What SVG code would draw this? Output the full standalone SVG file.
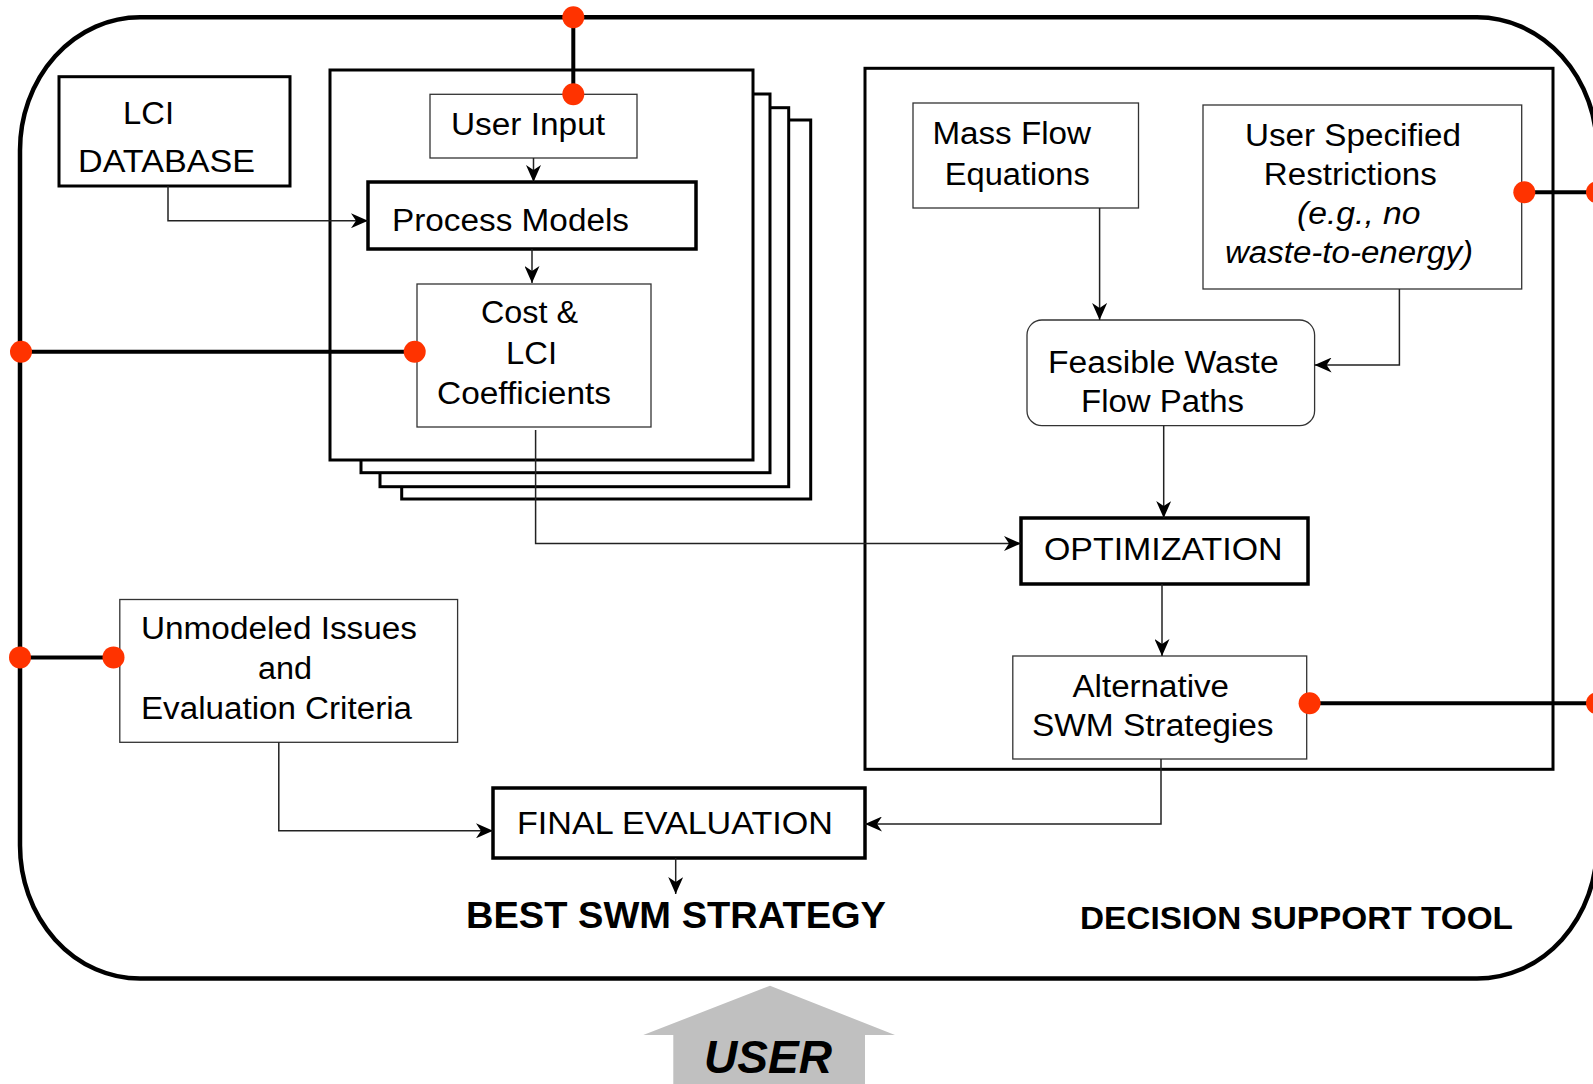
<svg xmlns="http://www.w3.org/2000/svg" width="1593" height="1084" viewBox="0 0 1593 1084">
  <style>
    .t { font-family: "Liberation Sans", Arial, sans-serif; font-size: 31px; fill: #000; }
    .ti { font-family: "Liberation Sans", Arial, sans-serif; font-size: 31px; font-style: italic; fill: #000; }
    .tb { font-family: "Liberation Sans", Arial, sans-serif; font-weight: bold; fill: #000; }
    .thin { fill: #fff; stroke: #333; stroke-width: 1.3; }
    .thick { fill: #fff; stroke: #000; stroke-width: 3.5; }
    .frame { fill: #fff; stroke: #000; stroke-width: 3; }
    .flow { fill: none; stroke: #222; stroke-width: 1.5; marker-end: url(#arrow); }
    .link { fill: none; stroke: #000; stroke-width: 4; }
    .dot { fill: #ff3300; }
  </style>
  <defs>
    <marker id="arrow" markerUnits="userSpaceOnUse" markerWidth="18" markerHeight="15" refX="17" refY="7.5" orient="auto">
      <path d="M0,0 L17,7.5 L0,15 L5,7.5 z" fill="#000"/>
    </marker>
  </defs>

  <rect width="1593" height="1084" fill="#fff"/>

  <!-- decision support tool boundary -->
  <path id="boundary" d="M140,17.3 H1477 A120,133 0 0 1 1597,150.3 V845.6 A120,133 0 0 1 1477,978.6 H140 A120,133 0 0 1 20,845.6 V150.3 A120,133 0 0 1 140,17.3 Z" fill="none" stroke="#000" stroke-width="4.5"/>

  <!-- user arrow -->
  <g id="user">
    <polygon points="770,985.7 895,1035 865,1035 865,1084 673.3,1084 673.3,1035 643.3,1035" fill="#c0c0c0"/>
    <text class="tb" x="704" y="1072.5" font-size="46" font-style="italic" textLength="128" lengthAdjust="spacingAndGlyphs">USER</text>
  </g>

  <!-- optimisation model frame -->
  <rect id="model-frame" class="frame" x="865" y="68.3" width="688" height="701"/>

  <!-- stack of process pages -->
  <g id="process-stack">
    <rect class="frame" x="401.7" y="120" width="409" height="379"/>
    <rect class="frame" x="380" y="107.7" width="408.7" height="379"/>
    <rect class="frame" x="361" y="94" width="409" height="378.7"/>
    <rect class="frame" x="330" y="70" width="423" height="390"/>
  </g>

  <g id="lci-database">
    <rect class="frame" x="59" y="76.7" width="231" height="109.3"/>
    <text class="t" x="123" y="124" textLength="51" lengthAdjust="spacingAndGlyphs">LCI</text>
    <text class="t" x="78" y="171.7" textLength="177" lengthAdjust="spacingAndGlyphs">DATABASE</text>
  </g>

  <g id="user-input">
    <rect class="thin" x="430" y="94.3" width="207" height="63.7"/>
    <text class="t" x="451" y="135" textLength="154" lengthAdjust="spacingAndGlyphs">User Input</text>
  </g>

  <g id="process-models">
    <rect class="thick" x="368" y="182" width="328" height="67"/>
    <text class="t" x="392" y="231" textLength="237" lengthAdjust="spacingAndGlyphs">Process Models</text>
  </g>

  <g id="cost-lci">
    <rect class="thin" x="417" y="284" width="234" height="143"/>
    <text class="t" x="481" y="323" textLength="97" lengthAdjust="spacingAndGlyphs">Cost &amp;</text>
    <text class="t" x="506" y="364" textLength="51" lengthAdjust="spacingAndGlyphs">LCI</text>
    <text class="t" x="437" y="404" textLength="174" lengthAdjust="spacingAndGlyphs">Coefficients</text>
  </g>

  <g id="mass-flow">
    <rect class="thin" x="913" y="103" width="225.5" height="105"/>
    <text class="t" x="932.4" y="144" textLength="158.6" lengthAdjust="spacingAndGlyphs">Mass Flow</text>
    <text class="t" x="944.8" y="185" textLength="145" lengthAdjust="spacingAndGlyphs">Equations</text>
  </g>

  <g id="user-restrictions">
    <rect class="thin" x="1203" y="105" width="318.7" height="184"/>
    <text class="t" x="1245" y="145.7" textLength="216" lengthAdjust="spacingAndGlyphs">User Specified</text>
    <text class="t" x="1263.8" y="185" textLength="173" lengthAdjust="spacingAndGlyphs">Restrictions</text>
    <text class="ti" x="1297" y="224" textLength="123.6" lengthAdjust="spacingAndGlyphs">(e.g., no</text>
    <text class="ti" x="1225" y="263" textLength="248" lengthAdjust="spacingAndGlyphs">waste-to-energy)</text>
  </g>

  <g id="feasible-paths">
    <rect class="thin" x="1027" y="320" width="287.6" height="105.7" rx="15" ry="15"/>
    <text class="t" x="1048" y="373" textLength="230.6" lengthAdjust="spacingAndGlyphs">Feasible Waste</text>
    <text class="t" x="1081" y="412" textLength="163" lengthAdjust="spacingAndGlyphs">Flow Paths</text>
  </g>

  <g id="optimization">
    <rect class="thick" x="1021" y="518" width="287" height="66"/>
    <text class="t" x="1044" y="559.6" textLength="238.5" lengthAdjust="spacingAndGlyphs">OPTIMIZATION</text>
  </g>

  <g id="alternatives">
    <rect class="thin" x="1012.8" y="656" width="293.9" height="103"/>
    <text class="t" x="1072.5" y="697" textLength="156.5" lengthAdjust="spacingAndGlyphs">Alternative</text>
    <text class="t" x="1032" y="736" textLength="241.6" lengthAdjust="spacingAndGlyphs">SWM Strategies</text>
  </g>

  <g id="unmodeled-issues">
    <rect class="thin" x="119.8" y="599.5" width="337.8" height="142.8"/>
    <text class="t" x="141" y="638.7" textLength="276" lengthAdjust="spacingAndGlyphs">Unmodeled Issues</text>
    <text class="t" x="258" y="679.4" textLength="54" lengthAdjust="spacingAndGlyphs">and</text>
    <text class="t" x="141" y="719" textLength="271" lengthAdjust="spacingAndGlyphs">Evaluation Criteria</text>
  </g>

  <g id="final-evaluation">
    <rect class="thick" x="493" y="788" width="372" height="70"/>
    <text class="t" x="517" y="833.7" textLength="316" lengthAdjust="spacingAndGlyphs">FINAL EVALUATION</text>
  </g>

  <g id="best-strategy">
    <text class="tb" x="466" y="928" font-size="36" textLength="420" lengthAdjust="spacingAndGlyphs">BEST SWM STRATEGY</text>
  </g>

  <g id="tool-label">
    <text class="tb" x="1080" y="929" font-size="31.5" textLength="433" lengthAdjust="spacingAndGlyphs">DECISION SUPPORT TOOL</text>
  </g>

  <!-- connectors -->
  <g id="connectors">
    <path class="flow" d="M533.5,158 V182"/>
    <path class="flow" d="M168,186 V220.7 H368"/>
    <path class="flow" d="M532,249 V283"/>
    <path class="flow" d="M535.6,430 V543.5 H1021"/>
    <path class="flow" d="M1099.6,208 V320"/>
    <path class="flow" d="M1399.4,289 V365 H1314.6"/>
    <path class="flow" d="M1163.7,425.7 V518"/>
    <path class="flow" d="M1162,584 V656"/>
    <path class="flow" d="M1161,759 V824 H865"/>
    <path class="flow" d="M278.8,742.3 V830.8 H493"/>
    <path class="flow" d="M675.7,858 V894"/>

    <!-- user interaction links -->
    <path class="link" d="M573.3,17.3 V94.3"/>
    <path class="link" d="M21,351.7 H414.7"/>
    <path class="link" d="M20,657.4 H113.5"/>
    <path class="link" d="M1524.3,192.3 H1597"/>
    <path class="link" d="M1309.6,703.3 H1597"/>
    <circle class="dot" cx="573.3" cy="17.3" r="11"/>
    <circle class="dot" cx="573.3" cy="94.3" r="11"/>
    <circle class="dot" cx="21" cy="351.7" r="11"/>
    <circle class="dot" cx="414.7" cy="351.7" r="11"/>
    <circle class="dot" cx="20" cy="657.4" r="11"/>
    <circle class="dot" cx="113.5" cy="657.4" r="11"/>
    <circle class="dot" cx="1524.3" cy="192.3" r="11"/>
    <circle class="dot" cx="1597" cy="192.3" r="11"/>
    <circle class="dot" cx="1309.6" cy="703.3" r="11"/>
    <circle class="dot" cx="1597" cy="703.3" r="11"/>
  </g>
</svg>
